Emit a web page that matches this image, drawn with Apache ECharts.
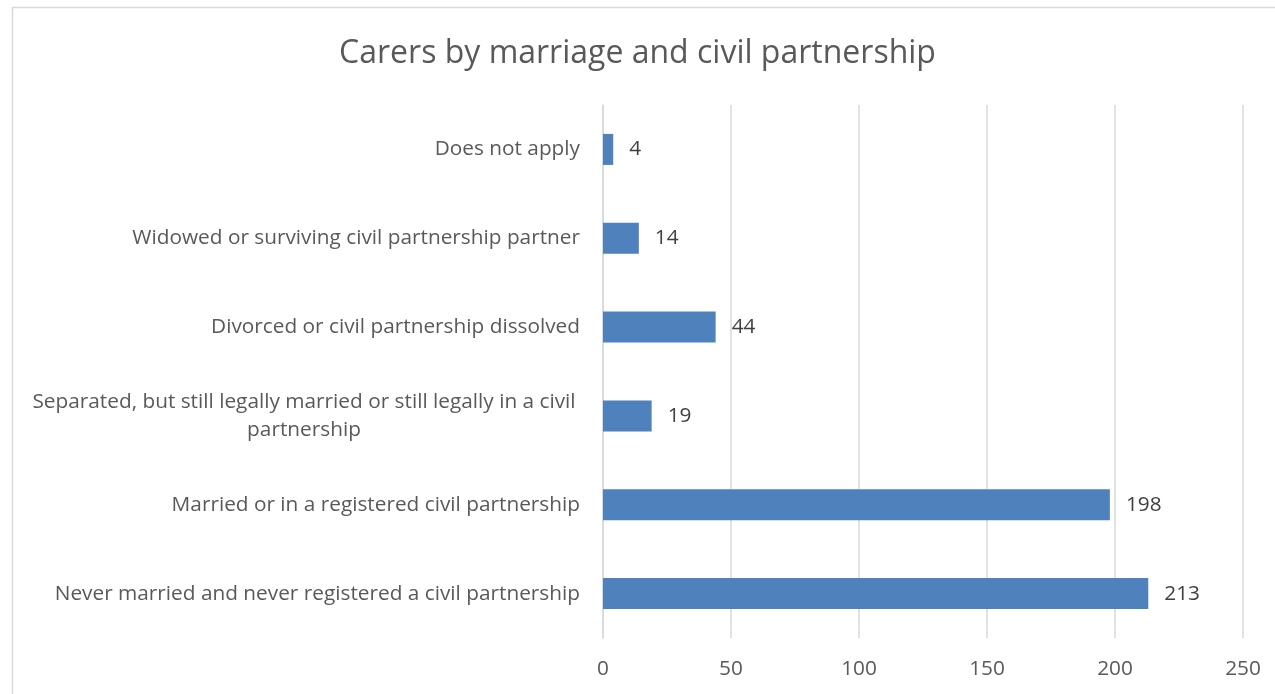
<!DOCTYPE html>
<html>
<head>
<meta charset="utf-8">
<script src="https://cdn.jsdelivr.net/npm/echarts@6/dist/echarts.min.js"></script>
<style>
  html, body { margin: 0; padding: 0; background: #ffffff; }
  #chart { width: 1275px; height: 694px; }
</style>
</head>
<body>
<div id="chart"></div>
<script>
// Marital / civil partnership status of carers (top to bottom)
const categories = [
  'Does not apply',
  'Widowed or surviving civil partnership partner',
  'Divorced or civil partnership dissolved',
  'Separated, but still legally married or still legally in a civil\npartnership',
  'Married or in a registered civil partnership',
  'Never married and never registered a civil partnership'
];
const carerCounts = [4, 14, 44, 19, 198, 213];
const xTicks = [0, 50, 100, 150, 200, 250];

const FONT = '"Open Sans", "Liberation Sans", sans-serif';
const GREY_TEXT = '#595959';
const GRID_GREY = '#d9d9d9';
const LABEL_SIZE = 20.8;

const chart = echarts.init(document.getElementById('chart'), null, { renderer: 'canvas' });

chart.setOption({
  backgroundColor: '#ffffff',
  animation: false,
  textStyle: { fontFamily: FONT },
  title: {
    text: 'Carers by marriage and civil partnership',
    left: 'center',
    top: 33,
    textStyle: { fontFamily: FONT, fontSize: 32, fontWeight: 'normal', color: GREY_TEXT }
  },
  graphic: [
    {
      type: 'polyline',
      silent: true,
      shape: { points: [[12.5, 700], [12.5, 7.5], [1280, 7.5]] },
      style: { stroke: GRID_GREY, lineWidth: 1.5, fill: null }
    }
  ],
  grid: { left: 603, right: 32, top: 105, bottom: 56, containLabel: false },
  xAxis: {
    type: 'value',
    min: xTicks[0],
    max: xTicks[xTicks.length - 1],
    interval: xTicks[1] - xTicks[0],
    axisLine: { show: false },
    axisTick: { show: false },
    axisLabel: { color: GREY_TEXT, fontSize: LABEL_SIZE, fontFamily: FONT, margin: 21 },
    splitLine: { show: true, lineStyle: { color: GRID_GREY, width: 1.5 } }
  },
  yAxis: {
    type: 'category',
    inverse: true,
    data: categories,
    axisLine: { show: true, lineStyle: { color: GRID_GREY, width: 1.5 } },
    axisTick: { show: false },
    axisLabel: {
      color: GREY_TEXT,
      fontSize: LABEL_SIZE,
      fontFamily: FONT,
      margin: 23,
      formatter: function (v) {
        return v.indexOf('\n') >= 0 ? '{c|' + v + '}' : v;
      },
      rich: {
        c: { width: 552, align: 'center', lineHeight: 28, fontSize: LABEL_SIZE, fontFamily: FONT, color: GREY_TEXT }
      }
    }
  },
  series: [
    {
      type: 'bar',
      data: carerCounts,
      barWidth: 31,
      itemStyle: { color: '#4f81bd' },
      label: {
        show: true,
        position: 'right',
        distance: 16,
        color: '#404040',
        fontSize: LABEL_SIZE,
        fontFamily: FONT
      }
    }
  ]
});
</script>
</body>
</html>
